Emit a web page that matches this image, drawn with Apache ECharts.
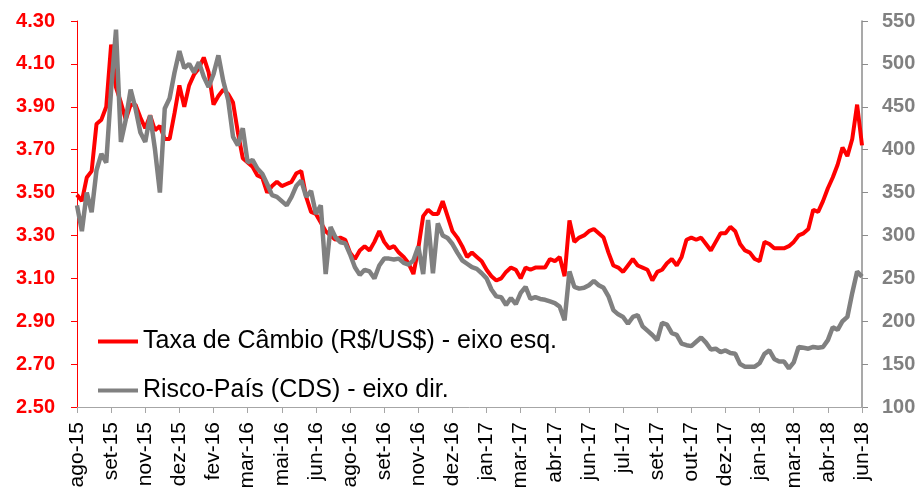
<!DOCTYPE html>
<html>
<head>
<meta charset="utf-8">
<script src="https://cdn.jsdelivr.net/npm/echarts@6/dist/echarts.min.js"></script>
<style>
  html, body { margin: 0; padding: 0; background: #fff; }
  #main { width: 924px; height: 492px; }
</style>
</head>
<body>
<div id="main"></div>
<script>
// rótulos do eixo x (um a cada 7 pontos)
var xLabels = ['ago-15', 'set-15', 'nov-15', 'dez-15', 'fev-16', 'mar-16', 'mai-16', 'jun-16',
  'ago-16', 'set-16', 'nov-16', 'dez-16', 'jan-17', 'mar-17', 'abr-17', 'jun-17', 'jul-17',
  'set-17', 'out-17', 'dez-17', 'jan-18', 'mar-18', 'abr-18', 'jun-18'];
var STEP = 7;

// Taxa de Câmbio (R$/US$) - eixo esq.
var cambio = [
  3.49, 3.46, 3.57, 3.60, 3.82, 3.84, 3.90, 4.19, 3.99, 3.92,
  3.84, 3.91, 3.91, 3.85, 3.80, 3.86, 3.79, 3.81, 3.75, 3.75,
  3.87, 4.00, 3.90, 4.00, 4.05, 4.08, 4.13, 4.06, 3.91, 3.95,
  3.98, 3.96, 3.92, 3.78, 3.66, 3.64, 3.62, 3.58, 3.57, 3.50,
  3.53, 3.55, 3.53, 3.54, 3.55, 3.59, 3.60, 3.48, 3.41, 3.40,
  3.36, 3.32, 3.30, 3.28, 3.29, 3.28, 3.22, 3.19, 3.23, 3.25,
  3.23, 3.27, 3.32, 3.27, 3.24, 3.25, 3.22, 3.20, 3.17, 3.12,
  3.24, 3.39, 3.42, 3.40, 3.40, 3.46, 3.39, 3.32, 3.29, 3.25,
  3.20, 3.22, 3.20, 3.18, 3.14, 3.11, 3.09, 3.10, 3.13, 3.15,
  3.14, 3.10, 3.15, 3.14, 3.15, 3.15, 3.15, 3.19, 3.18, 3.20,
  3.11, 3.37, 3.27, 3.29, 3.30, 3.32, 3.33, 3.31, 3.29, 3.22,
  3.16, 3.15, 3.13, 3.16, 3.19, 3.16, 3.15, 3.14, 3.09, 3.13,
  3.14, 3.17, 3.19, 3.16, 3.20, 3.28, 3.29, 3.28, 3.29, 3.26,
  3.23, 3.27, 3.31, 3.31, 3.34, 3.32, 3.26, 3.23, 3.22, 3.19,
  3.18, 3.27, 3.26, 3.24, 3.24, 3.24, 3.25, 3.27, 3.30, 3.31,
  3.33, 3.42, 3.41, 3.46, 3.52, 3.57, 3.63, 3.71, 3.67, 3.75,
  3.91, 3.72
];

// Risco-País (CDS) - eixo dir.
var cds = [
  335, 305, 350, 327, 376, 395, 385, 470, 540, 409,
  435, 470, 448, 420, 409, 440, 400, 350, 448, 460,
  490, 515, 495, 500, 490, 502, 485, 473, 488, 510,
  480, 458, 415, 405, 425, 385, 388, 378, 372, 360,
  347, 345, 340, 335, 345, 358, 364, 345, 352, 325,
  335, 255, 310, 298, 292, 291, 278, 263, 254, 260,
  258, 250, 265, 273, 273, 272, 273, 268, 266, 271,
  287, 255, 318, 256, 314, 300, 297, 290, 280, 271,
  267, 263, 261, 256, 250, 237, 229, 228, 219, 227,
  220, 233, 240, 226, 228, 226, 225, 223, 221, 217,
  201, 258, 240, 238, 239, 242, 247, 242, 239, 229,
  213, 208, 205, 197, 205, 207, 194, 189, 184, 178,
  198, 196, 186, 184, 174, 172, 171, 176, 181, 175,
  167, 168, 164, 166, 163, 162, 150, 147, 147, 147,
  151, 162, 166, 156, 153, 153, 145, 152, 170, 169,
  168, 170, 169, 170, 178, 193, 190, 200, 205, 233,
  258, 252
];

// eixo esquerdo vai de 2.50 a 4.30; desloca para começar em 0
var BASE = 2.5;

var myChart = echarts.init(document.getElementById('main'));
var font = '"Liberation Sans", Arial, sans-serif';

myChart.setOption({
  animation: false,
  backgroundColor: '#fff',
  grid: { left: 77, right: 62, top: 21, bottom: 85 },
  legend: {
    orient: 'vertical',
    left: 93,
    top: 324,
    itemGap: 24,
    itemWidth: 40,
    itemHeight: 4,
    icon: 'rect',
    textStyle: { fontFamily: font, fontSize: 25, color: '#000' },
    data: ['Taxa de Câmbio (R$/US$) - eixo esq.', 'Risco-País (CDS) - eixo dir.']
  },
  xAxis: {
    type: 'value',
    min: 0,
    max: (xLabels.length - 1) * STEP,
    interval: STEP,
    splitLine: { show: false },
    axisLine: { lineStyle: { color: '#a6a6a6', width: 1 } },
    axisTick: { length: 6, lineStyle: { color: '#a6a6a6' } },
    axisLabel: {
      rotate: 90,
      margin: 15,
      fontFamily: font,
      fontSize: 21,
      color: '#000',
      formatter: function (v) {
        return xLabels[Math.round(v / STEP)] || '';
      }
    }
  },
  yAxis: [
    {
      type: 'value',
      position: 'left',
      min: 0,
      max: 1.8,
      interval: 0.2,
      splitLine: { show: false },
      axisLine: { show: true, lineStyle: { color: '#ff0000', width: 1 } },
      axisTick: { show: true, length: 6, lineStyle: { color: '#ff0000' } },
      axisLabel: {
        margin: 22,
        fontFamily: font,
        fontSize: 20,
        fontWeight: 'bold',
        color: '#ff0000',
        formatter: function (v) { return (v + BASE).toFixed(2); }
      }
    },
    {
      type: 'value',
      position: 'right',
      min: 100,
      max: 550,
      interval: 50,
      splitLine: { show: false },
      axisLine: { show: true, lineStyle: { color: '#8c8c8c', width: 1.5 } },
      axisTick: { show: true, length: 6, lineStyle: { color: '#8c8c8c' } },
      axisLabel: {
        margin: 20,
        fontFamily: font,
        fontSize: 20,
        fontWeight: 'bold',
        color: '#808080'
      }
    }
  ],
  series: [
    {
      name: 'Taxa de Câmbio (R$/US$) - eixo esq.',
      type: 'line',
      yAxisIndex: 0,
      showSymbol: false,
      color: '#ff0000',
      lineStyle: { width: 4, color: '#ff0000' },
      data: cambio.map(function (v, i) { return [i, +(v - BASE).toFixed(3)]; })
    },
    {
      name: 'Risco-País (CDS) - eixo dir.',
      type: 'line',
      yAxisIndex: 1,
      showSymbol: false,
      color: '#808080',
      lineStyle: { width: 4.5, color: '#808080' },
      data: cds.map(function (v, i) { return [i, v]; })
    }
  ]
});
</script>
</body>
</html>
